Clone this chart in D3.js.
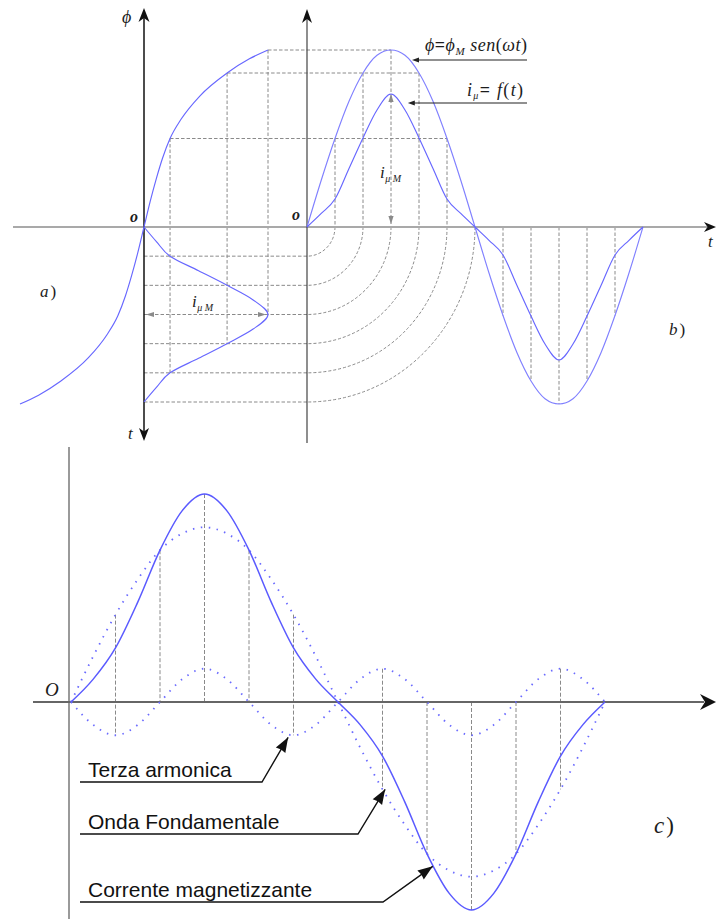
<!DOCTYPE html>
<html>
<head>
<meta charset="utf-8">
<script src="https://cdn.jsdelivr.net/npm/d3@7"></script>
<style>
  html, body { margin: 0; padding: 0; background: #fff; }
  svg { display: block; }
</style>
</head>
<body>
<svg id="chart" width="716" height="919"></svg>
<script>
// Electrical angle of every sample, degrees (half steps of the 30° construction grid)
const angleDeg = [0,15,30,45,60,75,90,105,120,135,150,165,180,195,210,225,240,255,270,285,300,315,330,345,360];

// b) flux wave ϕ = ϕM sen(ωt), per unit of ϕM
const fluxWave = [0,0.26,0.5,0.71,0.87,0.97,1,0.97,0.87,0.71,0.5,0.26,0,-0.26,-0.5,-0.71,-0.87,-0.97,-1,-0.97,-0.87,-0.71,-0.5,-0.26,0];
// b) magnetizing current iμ = f(t), per unit of iμM
const magCurrent = [0,0.1,0.21,0.44,0.67,0.88,1,0.88,0.67,0.44,0.21,0.1,0,-0.1,-0.21,-0.44,-0.67,-0.88,-1,-0.88,-0.67,-0.44,-0.21,-0.1,0];

// a) magnetization characteristic ϕ(iμ), per unit
const bhCurrent = [-1,-0.85,-0.67,-0.45,-0.3,-0.21,-0.15,-0.1,-0.05,0,0.05,0.1,0.15,0.21,0.3,0.45,0.67,0.85,1];
const bhFlux    = [-1,-0.95,-0.87,-0.74,-0.61,-0.5,-0.39,-0.275,-0.145,0,0.145,0.275,0.39,0.5,0.61,0.74,0.87,0.95,1];

// c) magnetizing current split into fundamental and third harmonic (per unit of peak)
const fundamental   = [0,0.22,0.42,0.59,0.73,0.81,0.84,0.81,0.73,0.59,0.42,0.22,0,-0.22,-0.42,-0.59,-0.73,-0.81,-0.84,-0.81,-0.73,-0.59,-0.42,-0.22,0];
const thirdHarmonic = [0,-0.11,-0.16,-0.11,0,0.11,0.16,0.11,0,-0.11,-0.16,-0.11,0,0.11,0.16,0.11,0,-0.11,-0.16,-0.11,0,0.11,0.16,0.11,0];
const totalCurrent  = [0,0.11,0.26,0.48,0.73,0.92,1,0.92,0.73,0.48,0.26,0.11,0,-0.11,-0.26,-0.48,-0.73,-0.92,-1,-0.92,-0.73,-0.48,-0.26,-0.11,0];

// Callout texts of panel c and the point of the wave each one points to (step, value)
const calloutText = ["Terza armonica", "Onda Fondamentale", "Corrente magnetizzante"];
const calloutStep = [4.88, 7.06, 8.13];
const calloutValue = [-0.17, -0.42, -0.79];

const panelNames = ["a", "b", "c"];

// ---------------------------------------------------------------------------
const svg = d3.select("#chart");
const stepOf = a => a / 30;           // one construction step = 30°

// Panel b: time to the right, flux / current upward
const xB   = d3.scaleLinear().domain([0, 12]).range([307, 643]);
const yPhi = d3.scaleLinear().domain([-1, 1]).range([404, 50]);
const yI   = d3.scaleLinear().domain([-1, 1]).range([360, 94]);
// Panel a: current to the right, flux upward (shared with b), time downward
const xA = d3.scaleLinear().domain([-1, 1]).range([20, 268]);
const tA = d3.scaleLinear().domain([0, 6]).range([227, 402]);
// Panel c
const xC = d3.scaleLinear().domain([0, 12]).range([71, 605]);
const yC = d3.scaleLinear().domain([-1, 1]).range([910, 494]);

const GRID = "#8a8a8a";
const WAVE = "#6767ff";
const INK = "#1c1c1c";
const serif = "'Liberation Serif','DejaVu Serif',serif";
const sans = "'Liberation Sans',Arial,sans-serif";

const alongX = d3.line().curve(d3.curveMonotoneX);
const alongY = d3.line().curve(d3.curveMonotoneY);

function dashed(g, x1, y1, x2, y2, dash) {
  g.append("line").attr("x1", x1).attr("y1", y1).attr("x2", x2).attr("y2", y2)
    .attr("stroke", GRID).attr("stroke-width", 1).attr("stroke-dasharray", dash || "3.5,2");
}
function arrowHead(g, tip, from, len, half, notch, fill) {
  const ang = Math.atan2(tip[1] - from[1], tip[0] - from[0]);
  const ux = Math.cos(ang), uy = Math.sin(ang);
  const bx = tip[0] - ux * len, by = tip[1] - uy * len;
  const px = -uy, py = ux;
  const pts = [tip, [bx + px * half, by + py * half],
    [tip[0] - ux * (len - notch), tip[1] - uy * (len - notch)],
    [bx - px * half, by - py * half]];
  g.append("path").attr("d", "M" + pts.map(p => p.join(",")).join("L") + "Z").attr("fill", fill);
}

// ---------------- construction grid (panels a and b) ----------------
const grid = svg.append("g");

// flux levels projected from the characteristic onto the sine, and down to the time axis of a
[1, 2, 3].forEach(k => {
  const j = 2 * k;
  const xa = xA(magCurrent[j]), ya = yPhi(fluxWave[j]);
  dashed(grid, xa, ya, xB(6 - k), ya);
  dashed(grid, xa, ya, xa, tA(6 - k));
});
// verticals from the flux wave to the time axis
[1, 2, 4, 5].forEach(k => dashed(grid, xB(k), yPhi(fluxWave[2 * k]), xB(k), yPhi(0)));
dashed(grid, xB(3), yPhi(1), xB(3), yPhi(0) - 3);
[7, 8, 9, 10, 11].forEach(k => dashed(grid, xB(k), yPhi(0), xB(k), yPhi(fluxWave[2 * k])));
// quarter arcs carrying time from the horizontal axis of b to the vertical time axis of a
[1, 2, 3, 4, 5, 6].forEach(k => {
  const rx = xB(k) - xB(0), ry = tA(k) - tA(0);
  grid.append("path")
    .attr("d", `M${xB(k)},${yPhi(0)} A${rx},${ry} 0 0 1 ${xB(0)},${tA(k)}`)
    .attr("fill", "none").attr("stroke", GRID).attr("stroke-width", 1).attr("stroke-dasharray", "3,2");
  dashed(grid, xA(0), tA(k), xB(0), tA(k));
});

// iμM dimension marks
arrowHead(grid, [xA(0) + 2, tA(3)], [xA(1), tA(3)], 8, 2.6, 0, GRID);
arrowHead(grid, [xA(1) - 2, tA(3)], [xA(0), tA(3)], 8, 2.6, 0, GRID);
arrowHead(grid, [xB(3), yI(1)], [xB(3), yPhi(0)], 8, 2.6, 0, GRID);
arrowHead(grid, [xB(3), yPhi(0) - 3], [xB(3), yI(1)], 8, 2.6, 0, GRID);

// ---------------- axes (panels a and b) ----------------
const axes = svg.append("g");
axes.append("line").attr("x1", 13).attr("x2", 707).attr("y1", yPhi(0)).attr("y2", yPhi(0))
  .attr("stroke", "#a9a9a9").attr("stroke-width", 2.2);
arrowHead(axes, [716, yPhi(0)], [13, yPhi(0)], 12, 5, 3.5, "#111");
axes.append("line").attr("x1", xA(0)).attr("x2", xA(0)).attr("y1", 18).attr("y2", 432)
  .attr("stroke", "#111").attr("stroke-width", 1.5);
arrowHead(axes, [xA(0), 8], [xA(0), 200], 14, 5.5, 4, "#111");
arrowHead(axes, [xA(0), 441], [xA(0), 200], 13, 5, 3.5, "#111");
axes.append("line").attr("x1", xB(0)).attr("x2", xB(0)).attr("y1", 18).attr("y2", 443)
  .attr("stroke", "#444").attr("stroke-width", 1.2);
arrowHead(axes, [xB(0), 9], [xB(0), 200], 14, 5, 4, "#111");

// ---------------- waves (panels a and b) ----------------
const waves = svg.append("g").attr("fill", "none").attr("stroke", WAVE).attr("stroke-width", 1.15);
waves.append("path").attr("d", alongX(bhCurrent.map((c, j) => [xA(c), yPhi(bhFlux[j])])));
waves.append("path").attr("d", alongY(angleDeg.filter(a => a <= 180)
  .map((a, j) => [xA(magCurrent[j]), tA(stepOf(a))])));
waves.append("path").attr("d", alongX(angleDeg.map((a, j) => [xB(stepOf(a)), yPhi(fluxWave[j])])))
  .attr("stroke", "#8080ff");
waves.append("path").attr("d", alongX(angleDeg.map((a, j) => [xB(stepOf(a)), yI(magCurrent[j])])));

// ---------------- math labels (panels a and b) ----------------
const lab = svg.append("g").attr("font-family", serif).attr("fill", INK);
function italic(x, y, txt, size) {
  return lab.append("text").attr("x", x).attr("y", y).attr("font-style", "italic")
    .attr("font-size", size || 17).text(txt);
}
italic(122, 23, "ϕ", 18);
italic(130, 222, "o", 16).attr("font-weight", "bold");
italic(292, 220, "o", 16).attr("font-weight", "bold");
italic(708, 247, "t", 17);
italic(128, 439, "t", 17);

// ϕ = ϕM sen(ωt)
const eq1 = lab.append("text").attr("x", 425).attr("y", 51)
  .attr("font-size", 18).attr("font-style", "italic")
  .attr("textLength", 102).attr("lengthAdjust", "spacing");
eq1.append("tspan").text("ϕ");
eq1.append("tspan").attr("font-style", "normal").attr("font-weight", "bold").text("=");
eq1.append("tspan").text("ϕ");
eq1.append("tspan").attr("font-size", 11).attr("dy", 4).text("M");
eq1.append("tspan").attr("dy", -4).text(" sen");
eq1.append("tspan").attr("font-style", "normal").text("(");
eq1.append("tspan").text("ωt");
eq1.append("tspan").attr("font-style", "normal").text(")");
// iμ = f(t)
const eq2 = lab.append("text").attr("x", 467).attr("y", 96)
  .attr("font-size", 18).attr("font-style", "italic")
  .attr("textLength", 56).attr("lengthAdjust", "spacing");
eq2.append("tspan").text("i");
eq2.append("tspan").attr("font-size", 10).attr("dy", 3).text("μ");
eq2.append("tspan").attr("dy", -3).attr("font-style", "normal").attr("font-weight", "bold").text("=");
eq2.append("tspan").text(" f");
eq2.append("tspan").attr("font-style", "normal").text("(");
eq2.append("tspan").text("t");
eq2.append("tspan").attr("font-style", "normal").text(")");
// pointer arrows of the two equations
[[60, xB(3.75)], [103, xB(3.6)]].forEach(([y, xTip]) => {
  lab.append("line").attr("x1", 527).attr("x2", xTip + 5).attr("y1", y).attr("y2", y)
    .attr("stroke", "#222").attr("stroke-width", 1.2);
  arrowHead(lab, [xTip, y], [527, y], 7, 2.6, 0, "#222");
});

// iμM labels
function iMuM(x, y) {
  const t = lab.append("text").attr("x", x).attr("y", y).attr("font-style", "italic").attr("font-size", 17);
  t.append("tspan").text("i");
  t.append("tspan").attr("font-size", 10).attr("dy", 4).attr("dx", 0.5).text("μ M");
}
iMuM(192, 307);
iMuM(380, 178);

// panel letters
function panelLetter(x, y, name, size) {
  const t = lab.append("text").attr("x", x).attr("y", y).attr("font-size", size);
  t.append("tspan").attr("font-style", "italic").text(name);
  t.append("tspan").attr("dx", 2).text(")");
}
panelLetter(40, 297, panelNames[0], 17);
panelLetter(669, 335, panelNames[1], 17);
panelLetter(654, 833, panelNames[2], 23);

// ---------------- panel c ----------------
const pc = svg.append("g");
// verticals spanning the fundamental, the third harmonic and the total at every 30° step
d3.range(1, 12).filter(k => k !== 6).forEach(k => {
  const j = 2 * k;
  const vals = [0, fundamental[j], thirdHarmonic[j], totalCurrent[j]];
  dashed(pc, xC(k), yC(d3.max(vals)), xC(k), yC(d3.min(vals)), "4,2");
});
// axes
pc.append("line").attr("x1", xC(0) - 2).attr("x2", xC(0) - 2).attr("y1", 447).attr("y2", 919)
  .attr("stroke", "#9a9a9a").attr("stroke-width", 2);
pc.append("line").attr("x1", 33).attr("x2", 704).attr("y1", yC(0)).attr("y2", yC(0))
  .attr("stroke", "#666").attr("stroke-width", 2);
arrowHead(pc, [716, yC(0)], [33, yC(0)], 16, 8, 5, "#111");
// waves
[fundamental, thirdHarmonic].forEach(series => {
  pc.append("path")
    .attr("d", alongX(angleDeg.map((a, j) => [xC(stepOf(a)), yC(series[j])])))
    .attr("fill", "none").attr("stroke", "#6a6aff")
    .attr("stroke-width", 1.8).attr("stroke-dasharray", "1.5,6.5");
});
pc.append("path")
  .attr("d", alongX(angleDeg.map((a, j) => [xC(stepOf(a)), yC(totalCurrent[j])])))
  .attr("fill", "none").attr("stroke", "#5a5aff").attr("stroke-width", 1.5);

// origin label
pc.append("text").attr("x", 45).attr("y", 696).attr("font-family", serif).attr("font-style", "italic")
  .attr("font-size", 19).attr("fill", INK).text("O");

// callouts
const calloutBase = [777, 829, 897];
const calloutElbow = [262, 358, 383];
calloutText.forEach((txt, i) => {
  const yb = calloutBase[i];
  pc.append("text").attr("x", 88).attr("y", yb).attr("font-family", sans).attr("font-size", 21)
    .attr("fill", "#111").text(txt);
  const tip = [xC(calloutStep[i]), yC(calloutValue[i])];
  const elbow = [calloutElbow[i], yb + 5];
  pc.append("path").attr("d", `M80,${yb + 5}L${elbow[0]},${elbow[1]}L${tip[0]},${tip[1]}`)
    .attr("fill", "none").attr("stroke", "#111").attr("stroke-width", 1.4);
  arrowHead(pc, tip, elbow, 15, 5.5, 1, "#111");
});
</script>
</body>
</html>
